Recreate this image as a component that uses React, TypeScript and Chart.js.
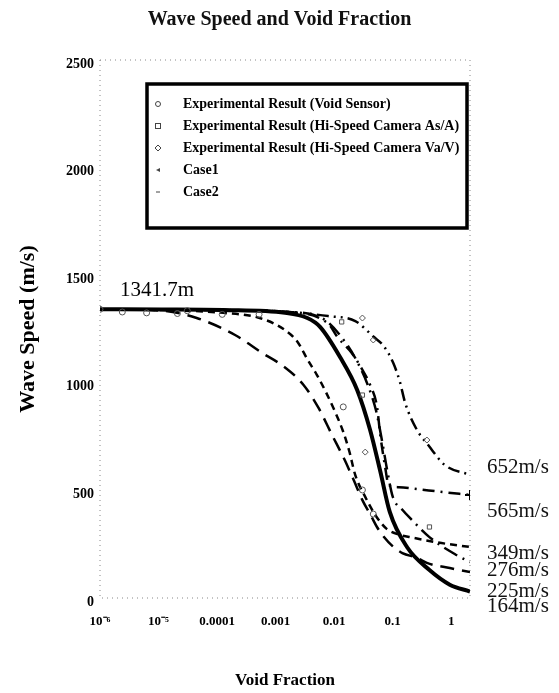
import React, { useEffect, useRef } from "react";
import { Chart, registerables } from "chart.js";
Chart.register(...registerables);

const FONT = '"Liberation Serif", "Times New Roman", serif';

const titleText = "Wave Speed and Void Fraction";
const xAxisTitle = "Void Fraction";
const yAxisTitle = "Wave Speed (m/s)";
const xTickValues = [1e-6, 1e-5, 1e-4, 1e-3, 1e-2, 1e-1, 1];
const xTickLabels = ["10⁻⁶", "10⁻⁵", "0.0001", "0.001", "0.01", "0.1", "1"];
const yTickValues = [0, 500, 1000, 1500, 2000, 2500];

// experimental results
const sensorVoid = [1e-6, 2.3e-6, 5.7e-6, 1.8e-5, 2.6e-5, 9.6e-5, 3.8e-4, 0.0088, 0.018, 0.027];
const sensorSpeed = [1341.7, 1329, 1325, 1322, 1335, 1318, 1318, 888, 502, 390];
const areaVoid = [0.0083, 0.018, 0.22];
const areaSpeed = [1283, 943, 330];
const volumeVoid = [0.018, 0.027, 0.02, 0.2];
const volumeSpeed = [1301, 1199, 678, 734];

// model curves
const case1Void = [1e-6, 1e-5, 1e-4, 1e-3, 0.0023, 0.0037, 0.0078, 0.0148, 0.024, 0.035, 0.05, 0.095, 0.22, 0.47, 1];
const case1Speed = [1342, 1341, 1338, 1325, 1301, 1260, 1120, 967, 781, 590, 400, 237, 130, 62, 30];
const case2Void = [1e-6, 1e-4, 1e-3, 0.005, 0.0138, 0.027, 0.04, 0.057, 0.073, 0.089, 0.138, 0.21, 0.39, 1];
const case2Speed = [1342, 1338, 1330, 1310, 1287, 1215, 1170, 1092, 1004, 906, 781, 711, 618, 572];
const case3Void = [1e-6, 1e-4, 1e-3, 0.005, 0.0072, 0.012, 0.018, 0.024, 0.031, 0.035, 0.042, 0.048, 0.07, 0.15, 0.3, 1];
const case3Speed = [1342, 1338, 1330, 1275, 1210, 1140, 1060, 990, 890, 760, 610, 525, 515, 505, 495, 479];
const case4Void = [1e-6, 1e-4, 1e-3, 0.004, 0.01, 0.015, 0.022, 0.03, 0.038, 0.045, 0.056, 0.08, 0.115, 0.22, 0.6, 1];
const case4Speed = [1342, 1338, 1330, 1300, 1180, 1095, 990, 870, 720, 600, 470, 410, 362, 283, 200, 167];
const case5Void = [1e-6, 1e-5, 3.7e-5, 1.55e-4, 4.3e-4, 9.3e-4, 0.002, 0.0035, 0.0058, 0.0093, 0.013, 0.018, 0.025, 0.031, 0.04, 0.056, 0.08, 0.14, 0.2, 0.47, 1];
const case5Speed = [1342, 1335, 1301, 1222, 1138, 1078, 990, 883, 757, 641, 548, 455, 380, 330, 285, 240, 209, 186, 163, 139, 121];
const case6Void = [1e-6, 1e-5, 1e-4, 4e-4, 1e-3, 0.0016, 0.0023, 0.0033, 0.0046, 0.0064, 0.0087, 0.011, 0.0138, 0.02, 0.03, 0.045, 0.07, 0.12, 0.3, 1];
const case6Speed = [1342, 1338, 1325, 1300, 1245, 1190, 1110, 1036, 957, 869, 776, 683, 571, 470, 380, 320, 295, 280, 258, 237];

const peakLabel = "1341.7m";
const peakSpeed = 1341.7;
const endLabels = ["652m/s", "565m/s", "349m/s", "276m/s", "225m/s", "164m/s"];

const pts = (xs: number[], ys: number[]) => xs.map((x, i) => ({ x, y: ys[i] }));

const endLabelOffsets = [-131, -87, -45, -28, -7, 8];

const markerStyles = ["circle", "rect", "rectRot", "triangle", "line"];

function drawMarker(ctx: CanvasRenderingContext2D, kind: string, x: number, y: number) {
  ctx.save();
  ctx.strokeStyle = "#444";
  ctx.fillStyle = "#444";
  ctx.lineWidth = 1;
  ctx.setLineDash([]);
  ctx.beginPath();
  if (kind === "circle") {
    ctx.arc(x, y, 2.5, 0, Math.PI * 2);
    ctx.stroke();
  } else if (kind === "rect") {
    ctx.strokeRect(x - 2.5, y - 2.5, 5, 5);
  } else if (kind === "rectRot") {
    ctx.moveTo(x, y - 3);
    ctx.lineTo(x + 3, y);
    ctx.lineTo(x, y + 3);
    ctx.lineTo(x - 3, y);
    ctx.closePath();
    ctx.stroke();
  } else if (kind === "triangle") {
    ctx.moveTo(x + 2, y - 2);
    ctx.lineTo(x - 2, y);
    ctx.lineTo(x + 2, y + 2);
    ctx.closePath();
    ctx.fill();
  } else {
    ctx.moveTo(x - 2, y);
    ctx.lineTo(x + 2, y);
    ctx.stroke();
  }
  ctx.restore();
}

const framePlugin = {
  id: "dottedFrame",
  beforeDatasetsDraw(chart: any) {
    const { ctx, chartArea: a } = chart;
    ctx.save();
    ctx.strokeStyle = "#888";
    ctx.lineWidth = 1;
    ctx.setLineDash([1, 4]);
    ctx.strokeRect(a.left, a.top, a.right - a.left, a.bottom - a.top);
    ctx.restore();
  },
};

const overlayPlugin = {
  id: "overlay",
  afterDatasetsDraw(chart: any) {
    const { ctx, chartArea: a } = chart;
    const yScale = chart.scales.y;
    ctx.save();
    // legend box
    const left = a.left + 47;
    const top = a.top + 24;
    const right = a.right - 3;
    const bottom = top + 144;
    ctx.fillStyle = "#fff";
    ctx.fillRect(left, top, right - left, bottom - top);
    ctx.lineWidth = 3.5;
    ctx.strokeStyle = "#000";
    ctx.setLineDash([]);
    ctx.strokeRect(left, top, right - left, bottom - top);
    const items = chart.data.datasets.filter((d: any) => d.inLegend);
    items.forEach((d: any, i: number) => {
      const y = top + 20 + i * 22;
      drawMarker(ctx, markerStyles[i], left + 11, y);
      ctx.fillStyle = "#000";
      ctx.font = `bold 14px ${FONT}`;
      ctx.textBaseline = "middle";
      ctx.textAlign = "left";
      ctx.fillText(d.label, left + 36, y);
    });
    // peak label
    ctx.font = `21px ${FONT}`;
    ctx.fillStyle = "#000";
    ctx.textBaseline = "middle";
    ctx.fillText(peakLabel, a.left + 20, yScale.getPixelForValue(peakSpeed) - 19);
    // end labels
    ctx.font = `21px ${FONT}`;
    endLabels.forEach((t, i) => {
      ctx.fillStyle = "#111";
      ctx.fillText(t, a.right + 17, a.bottom + endLabelOffsets[i]);
    });
    ctx.restore();
  },
};

const lineDs = (label: string, xs: number[], ys: number[], dash: number[], width: number, inLegend: boolean, extra: any = {}) => ({
  label,
  data: pts(xs, ys),
  showLine: true,
  borderColor: "#000",
  backgroundColor: "#000",
  borderWidth: width,
  borderDash: dash,
  pointRadius: 0,
  cubicInterpolationMode: "monotone",
  inLegend,
  ...extra,
});

const markDs = (label: string, xs: number[], ys: number[], style: string) => ({
  label,
  data: pts(xs, ys),
  showLine: false,
  pointStyle: style,
  pointRadius: 3,
  borderWidth: 1,
  borderColor: "#555",
  backgroundColor: "rgba(255,255,255,0)",
  inLegend: true,
});

export default function App() {
  const ref = useRef<HTMLCanvasElement>(null);
  useEffect(() => {
    if (!ref.current) return;
    const chart = new Chart(ref.current, {
      type: "scatter",
      data: {
        datasets: [
          markDs("Experimental Result (Void Sensor)", sensorVoid, sensorSpeed, "circle"),
          markDs("Experimental Result (Hi-Speed Camera As/A)", areaVoid, areaSpeed, "rect"),
          markDs("Experimental Result (Hi-Speed Camera Va/V)", volumeVoid, volumeSpeed, "rectRot"),
          lineDs("Case1", case1Void, case1Speed, [], 4, true),
          lineDs("Case2", case2Void, case2Speed, [12, 5, 2, 5, 2, 5], 2.5, true),
          lineDs("Case3", case3Void, case3Speed, [12, 6, 2, 6], 2.5, false, {
            pointStyle: "cross",
            pointRadius: (c: any) => (c.dataIndex === case3Void.length - 1 ? 5 : 0),
            pointBorderWidth: 2,
          }),
          lineDs("Case4", case4Void, case4Speed, [15, 6, 2, 6], 2.5, false),
          lineDs("Case5", case5Void, case5Speed, [14, 8], 2.5, false),
          lineDs("Case6", case6Void, case6Speed, [7, 5], 2.5, false),
        ] as any,
      },
      options: {
        responsive: false,
        animation: false,
        devicePixelRatio: 1,
        layout: { padding: 0 },
        plugins: {
          legend: { display: false },
          tooltip: { enabled: false },
          title: {
            display: true,
            text: titleText,
            color: "#111",
            font: { family: FONT, size: 20, weight: "bold" },
            padding: { top: 8, bottom: 28 },
          },
        },
        scales: {
          x: { type: "logarithmic", min: 1e-6, max: 1, display: false },
          xl: {
            type: "logarithmic",
            position: "bottom",
            min: 1e-6,
            max: 2.1,
            grid: { display: false, drawTicks: false },
            border: { display: false },
            afterBuildTicks: (s: any) => {
              s.ticks = xTickValues.map((v) => ({ value: v }));
            },
            afterFit: (s: any) => {
              s.height = 95;
            },
            ticks: {
              autoSkip: false,
              maxRotation: 0,
              padding: 16,
              color: "#000",
              font: { family: FONT, size: 13, weight: "bold" },
              callback: (_v: any, i: number) => xTickLabels[i],
            },
            title: {
              display: true,
              text: xAxisTitle,
              color: "#000",
              font: { family: FONT, size: 17, weight: "bold" },
              padding: { top: 0, bottom: 2 },
            },
          },
          y: {
            type: "linear",
            min: 0,
            max: 2500,
            grid: { display: false, drawTicks: false },
            border: { display: false },
            afterBuildTicks: (s: any) => {
              s.ticks = yTickValues.map((v) => ({ value: v }));
            },
            afterFit: (s: any) => {
              s.width = 100;
            },
            ticks: {
              padding: 6,
              labelOffset: 4,
              color: "#000",
              font: { family: FONT, size: 14, weight: "bold" },
              callback: (v: any) => String(v),
            },
            title: {
              display: true,
              text: yAxisTitle,
              color: "#000",
              font: { family: FONT, size: 22, weight: "bold" },
              padding: { top: 15, bottom: 0 },
            },
          },
          yr: {
            type: "linear",
            position: "right",
            min: 0,
            max: 2500,
            grid: { display: false, drawTicks: false },
            border: { display: false },
            ticks: { display: false },
            afterFit: (s: any) => {
              s.width = 89;
            },
          },
        },
      } as any,
      plugins: [framePlugin, overlayPlugin],
    });
    return () => chart.destroy();
  }, []);
  return (
    <div style={{ position: "fixed", left: 0, top: 0, width: 559, height: 693, background: "#fff" }}>
      <canvas ref={ref} width={559} height={693} />
    </div>
  );
}
